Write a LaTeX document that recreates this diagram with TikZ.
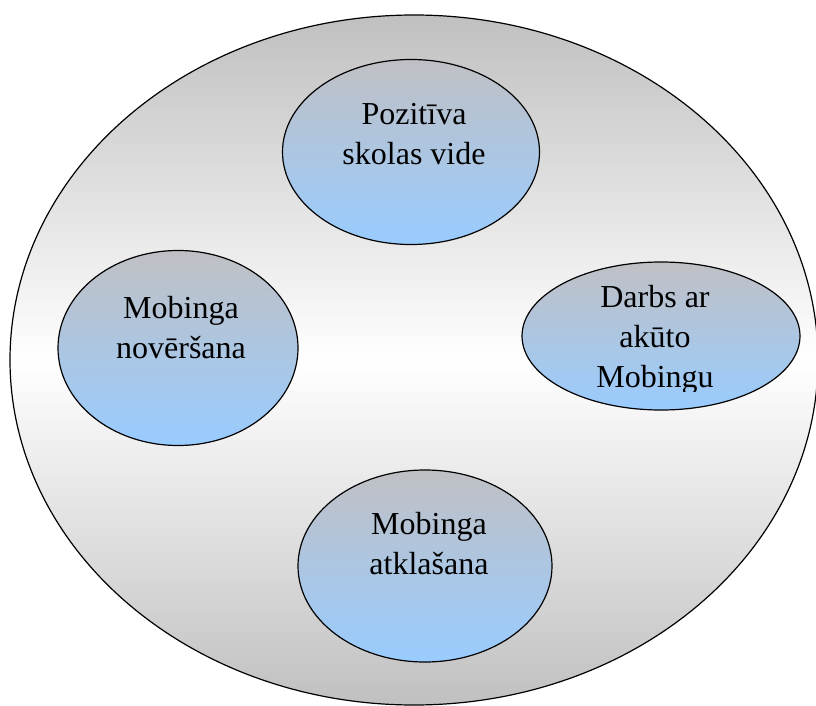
\documentclass[tikz,border=0pt]{standalone}
\usepackage{fontspec}
\setmainfont{Liberation Serif}
\usepackage{tikz}
\usetikzlibrary{shapes.geometric}
\definecolor{outergray}{RGB}{192,192,192}
\definecolor{innergray}{RGB}{192,192,196}
\definecolor{innerblue}{RGB}{153,204,255}

\begin{document}
\begin{tikzpicture}[x=1pt,y=-1pt,
	blob/.style={ellipse,draw,line width=1.2pt,top color=innergray,bottom color=innerblue,inner sep=0pt},
	word/.style={align=center,font=\fontsize{32}{40}\selectfont}]
	
	\clip (0,0) rectangle (816,706);
	\coordinate (o) at (414,360);
	\draw[line width=1.2pt,top color=outergray,bottom color=outergray,middle color=white] (o) ellipse [x radius=404, y radius=345];
	
	\node[blob,minimum width=257pt,minimum height=185pt] (pos) at (411,152) {};
	\node[blob,minimum width=240pt,minimum height=195pt] (nov) at (178,348) {};
	\node[blob,minimum width=278pt,minimum height=148pt] (akut) at (661,336) {};
	\node[blob,minimum width=254pt,minimum height=192pt] (atk) at (425,566) {};
	
	\node[word] (tpos) at (414,134) {Pozitīva\\skolas vide};
	\node[word] (tnov) at (181,328) {Mobinga\\novēršana};
	\node[word] (tatk) at (429,544) {Mobinga\\atklašana};
	\begin{scope}
		\clip (500,250) rectangle (816,391);
		\node[word] (takut) at (655,340) {Darbs ar\\akūto\\Mobingu};
	\end{scope}
	
\end{tikzpicture}
\end{document}
